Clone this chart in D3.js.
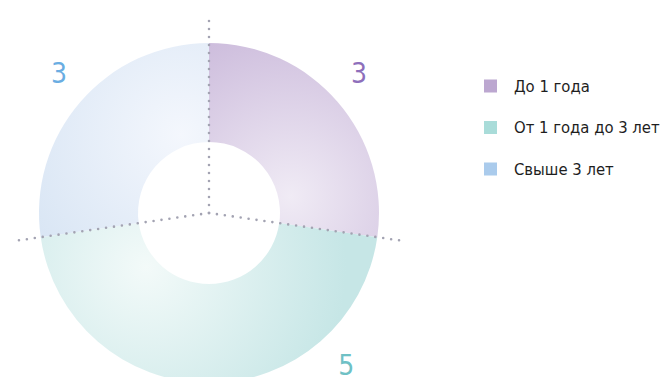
<!DOCTYPE html>
<html>
<head>
<meta charset="utf-8">
<script src="https://cdn.jsdelivr.net/npm/d3@7"></script>
<style>
  body { margin: 0; background: #fff; overflow: hidden; }
  text { font-family: "DejaVu Sans Condensed", "DejaVu Sans", sans-serif; font-stretch: condensed; }
</style>
</head>
<body>
<div id="chart"></div>
<script>
const categories = ["До 1 года", "От 1 года до 3 лет", "Свыше 3 лет"];
const values = [3, 5, 3];
const colorsDark = ["#c8b6d9", "#c6e6e6", "#d5e3f3"];
const colorsLight = ["#f0ebf5", "#f3faf9", "#f4f7fd"];
const legendColors = ["#bca7d0", "#a9dcd9", "#aacbec"];
const labelColors = ["#8e6fbb", "#6fc1c5", "#6aade2"];

const width = 665, height = 377;
const cx = 209, cy = 213;
const outerR = 170, innerR = 71, lineR = 195, labelR = 205;
// label angles (deg, clockwise from top) tuned to the picture
const labelAngles = [47, 138, 313];

const data = categories.map((c, i) => ({ label: c, value: values[i], i }));

const svg = d3.select("#chart").append("svg")
  .attr("width", width)
  .attr("height", height);

const pie = d3.pie().value(d => d.value).sort(null);
const arc = d3.arc().innerRadius(innerR).outerRadius(outerR);
const arcs = pie(data);

// one soft radial gradient per slice, lightest near the inner edge close to its end angle
// (coordinates are in the translated group's space)
const defs = svg.append("defs");
arcs.forEach(d => {
  const a = d.endAngle - 0.2 * (d.endAngle - d.startAngle);
  const r0 = innerR + 12;
  const grad = defs.append("radialGradient")
    .attr("id", "grad" + d.data.i)
    .attr("gradientUnits", "userSpaceOnUse")
    .attr("cx", r0 * Math.sin(a))
    .attr("cy", -r0 * Math.cos(a))
    .attr("r", 200);
  grad.append("stop").attr("offset", "0").attr("stop-color", colorsLight[d.data.i]);
  grad.append("stop").attr("offset", "1").attr("stop-color", colorsDark[d.data.i]);
});

const g = svg.append("g").attr("transform", `translate(${cx},${cy})`);

g.selectAll("path.slice")
  .data(arcs)
  .join("path")
  .attr("class", "slice")
  .attr("d", arc)
  .attr("fill", d => `url(#grad${d.data.i})`);

// dotted boundary lines
g.selectAll("line.sep")
  .data(arcs)
  .join("line")
  .attr("class", "sep")
  .attr("x1", 0).attr("y1", 0)
  .attr("x2", d => lineR * Math.sin(d.startAngle))
  .attr("y2", d => -lineR * Math.cos(d.startAngle))
  .attr("stroke", "#a3a3b2")
  .attr("stroke-width", 2.6)
  .attr("stroke-linecap", "round")
  .attr("stroke-dasharray", "0 8");

// value labels
g.selectAll("text.val")
  .data(arcs)
  .join("text")
  .attr("class", "val")
  .attr("x", d => labelR * Math.sin(labelAngles[d.data.i] * Math.PI / 180))
  .attr("y", d => -labelR * Math.cos(labelAngles[d.data.i] * Math.PI / 180))
  .attr("text-anchor", "middle")
  .attr("dominant-baseline", "central")
  .attr("font-size", "28px")
  .attr("fill", d => labelColors[d.data.i])
  .text(d => d.data.value);

// legend
const legend = svg.append("g").attr("transform", "translate(484,86)");
const item = legend.selectAll("g")
  .data(data)
  .join("g")
  .attr("transform", d => `translate(0,${d.i * 41.5})`);

item.append("rect")
  .attr("x", 0).attr("y", -6.5)
  .attr("width", 13).attr("height", 13)
  .attr("fill", d => legendColors[d.i]);

item.append("text")
  .attr("x", 30).attr("y", 0)
  .attr("dominant-baseline", "central")
  .attr("font-size", "16.5px")
  .attr("fill", "#1e1e1e")
  .text(d => d.label);
</script>
</body>
</html>
